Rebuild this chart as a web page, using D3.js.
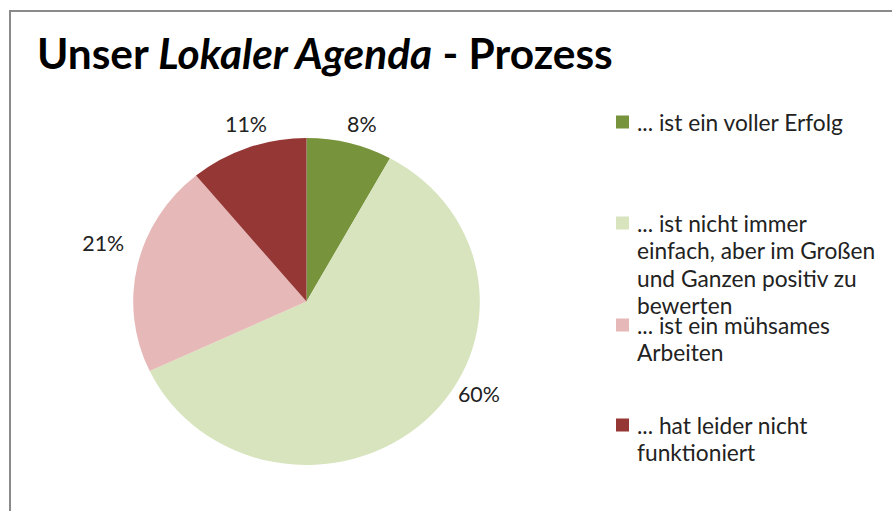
<!DOCTYPE html>
<html><head><meta charset="utf-8">
<script src="https://cdn.jsdelivr.net/npm/d3@7"></script>
<style>html,body{margin:0;padding:0;background:#fff;overflow:hidden}</style>
</head><body>
<svg id="chart" width="892" height="511"></svg>
<script>
// ---- data ----
const categories = [
  "... ist ein voller Erfolg",
  "... ist nicht immer einfach, aber im Großen und Ganzen positiv zu bewerten",
  "... ist ein mühsames Arbeiten",
  "... hat leider nicht funktioniert"
];
const legendLines = [
  ["... ist ein voller Erfolg"],
  ["... ist nicht immer", "einfach, aber im Großen", "und Ganzen positiv zu", "bewerten"],
  ["... ist ein mühsames", "Arbeiten"],
  ["... hat leider nicht", "funktioniert"]
];
const values = [8, 60, 21, 11];
const percentLabels = ["8%", "60%", "21%", "11%"];
const colors = ["#77933c", "#d7e4bd", "#e6b9b8", "#953735"];

// ---- layout ----
const W = 892, H = 511;
const cx = 306.5, cy = 301.5, R = 163.5, xStretch = 1.06;
const labelAngleNudgeDeg = [2, -17.3, 4.5, 2];
const labelRadiusNudge = [-2, -9, 5, -2];
const FONT = "Lato, 'Open Sans', sans-serif";

const svg = d3.select("#chart");
svg.append("rect").attr("width", W).attr("height", H).attr("fill", "#fff");

// frame
svg.append("path").attr("d", `M10,${H} L10,11 L${W},11`)
  .attr("fill", "none").attr("stroke", "#8a8a8a").attr("stroke-width", 2);

// title
const title = svg.append("text").attr("x", 37).attr("y", 69)
  .attr("font-family", FONT).attr("font-weight", 700).attr("font-size", 34).attr("fill", "#000");
title.append("tspan").text("Unser ");
title.append("tspan").attr("font-style", "italic").text("Lokaler Agenda");
title.append("tspan").text(" - Prozess");
{
  const w = title.node().getComputedTextLength();
  title.attr("font-size", 34 * 576 / w);
}

// pie
const pie = d3.pie().sort(null).value(d => d)(values);
const arc = d3.arc().innerRadius(0).outerRadius(R);
const g = svg.append("g").attr("transform", `translate(${cx},${cy}) scale(${xStretch},1)`);
g.selectAll("path").data(pie).join("path")
  .attr("d", arc).attr("fill", (d, i) => colors[i]);

// percent labels
const lblG = svg.append("g");
const lbl = lblG.selectAll("text").data(pie).join("text")
  .attr("font-family", FONT).attr("font-size", 19).attr("fill", "#222")
  .attr("text-anchor", "middle").attr("dominant-baseline", "central")
  .text((d, i) => percentLabels[i]);
{
  const w = lbl.filter((d, i) => i === 1).node().getComputedTextLength();
  lbl.attr("font-size", 19 * 42 / w);
}
lbl.each(function(d, i) {
  const bb = this.getBBox();
  const a = (d.startAngle + d.endAngle) / 2 + labelAngleNudgeDeg[i] * Math.PI / 180;
  const s = Math.sin(a), c = Math.cos(a);
  const r = R + 9 + Math.abs(s) * bb.width / 2 + Math.abs(c) * bb.height * 0.4 + labelRadiusNudge[i];
  d3.select(this).attr("x", cx + r * s * xStretch).attr("y", cy - r * c);
});

// legend
const legY = [122, 223, 325, 425];
const lineH = 27.5;
const leg = svg.append("g");
legendLines.forEach((lines, i) => {
  leg.append("rect").attr("x", 616).attr("y", legY[i] - 6.5).attr("width", 13).attr("height", 13)
    .attr("fill", colors[i]);
  const t = leg.append("text").attr("font-family", FONT).attr("font-size", 19).attr("fill", "#222");
  lines.forEach((ln, j) => {
    t.append("tspan").attr("x", 637).attr("y", legY[i] + j * lineH)
      .attr("dominant-baseline", "central").text(ln);
  });
});
{
  const first = leg.select("text tspan").node();
  const w = first.getComputedTextLength();
  leg.selectAll("text").attr("font-size", 19 * 206 / w);
}
</script>
</body></html>
